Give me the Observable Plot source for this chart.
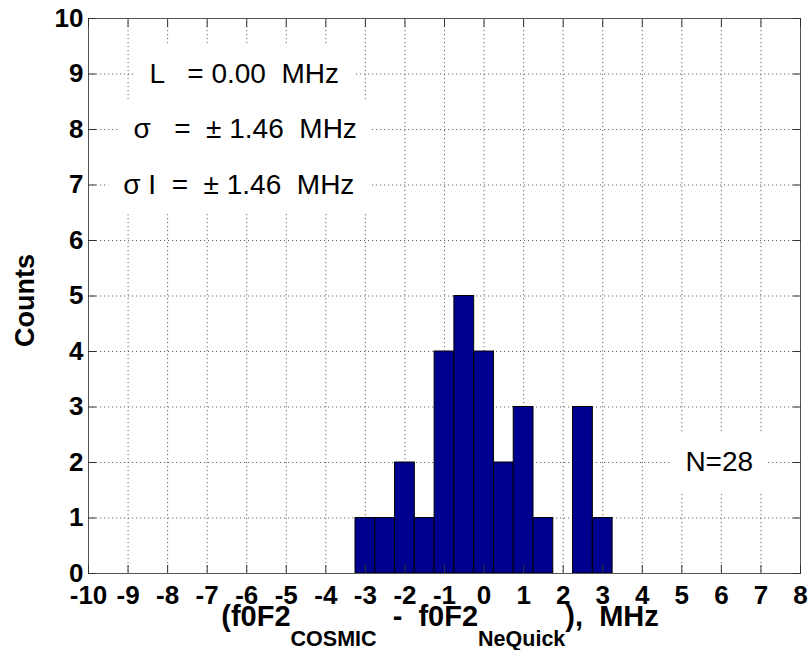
<!DOCTYPE html>
<html>
<head>
<meta charset="utf-8">
<script src="https://cdn.jsdelivr.net/npm/d3@7"></script>
<script src="https://cdn.jsdelivr.net/npm/@observablehq/plot@0.6"></script>
<style>
  html, body { margin: 0; padding: 0; background: #fff; }
  svg text { white-space: pre; }
</style>
</head>
<body>
<div id="chart"></div>
<script>
// ---- data ----
const binCenters = [-3, -2.5, -2, -1.5, -1, -0.5, 0, 0.5, 1, 1.5, 2, 2.5, 3];
const counts     = [ 1,    1,  2,    1,  4,    5, 4,   2, 3,   1, 0,   3, 1];
const binWidth = 0.5;
const xTicks = [-10,-9,-8,-7,-6,-5,-4,-3,-2,-1,0,1,2,3,4,5,6,7,8];
const yTicks = [0,1,2,3,4,5,6,7,8,9,10];
const annotText = ["L   = 0.00  MHz", "σ   =  ± 1.46  MHz", "σ I  =  ± 1.46  MHz", "N=28"];
const annotX = [-8.46, -8.86, -9.12, 5.09];
const annotY = [9, 8, 7, 2];

const FONT = "'Liberation Sans', Arial, Helvetica, sans-serif";

const bins = binCenters.map((c, i) => ({x1: c - binWidth / 2, x2: c + binWidth / 2, count: counts[i]}))
  .filter(d => d.count > 0);
const annots = annotText.map((t, i) => ({text: t, x: annotX[i], y: annotY[i]}));

const grid = {stroke: "#666", strokeOpacity: 1, strokeWidth: 1, strokeDasharray: "1.2,2.8"};
const tickStyle = {stroke: "#333", tickSize: 8, tickFormat: () => "", label: null};
const labelStyle = {tickSize: 0, fontSize: 26, fontWeight: "bold", fontFamily: FONT, fill: "#000", label: null, tickFormat: d => String(d)};

const chart = Plot.plot({
  width: 810,
  height: 650,
  marginLeft: 88,
  marginRight: 10,
  marginTop: 18,
  marginBottom: 77,
  style: {fontFamily: FONT, background: "#fff"},
  x: {domain: [-10, 8]},
  y: {domain: [0, 10]},
  marks: [
    Plot.gridX(xTicks, grid),
    Plot.gridY(yTicks, grid),
    Plot.rectY(bins, {x1: "x1", x2: "x2", y: "count", fill: "#00008F", stroke: "#000", strokeWidth: 1}),
    Plot.frame({stroke: "#555", strokeWidth: 1}),
    Plot.axisX(xTicks, {...tickStyle, anchor: "bottom", dy: -8}),
    Plot.axisX(xTicks, {...tickStyle, anchor: "top", dy: 8}),
    Plot.axisY(yTicks, {...tickStyle, anchor: "left", dx: 8}),
    Plot.axisY(yTicks, {...tickStyle, anchor: "right", dx: -8}),
    Plot.axisX(xTicks, {...labelStyle, anchor: "bottom", tickPadding: 12}),
    Plot.axisY(yTicks, {...labelStyle, anchor: "left", tickPadding: 5}),
    Plot.text(annots, {x: "x", y: "y", text: "text", textAnchor: "start", lineAnchor: "middle",
      fontSize: 28, fontFamily: FONT, fill: "#000"})
  ]
});

document.getElementById("chart").appendChild(chart);

const svg = d3.select(chart);

// white background boxes behind the annotations (as in the original figure)
const annTexts = svg.selectAll("text").filter(function() {
  return annotText.includes(this.textContent);
});
annTexts.each(function() {
  const b = this.getBBox();
  const m = this.getCTM();
  const padX = 15, padY = 14;
  const g = this.parentNode;
  const r = document.createElementNS("http://www.w3.org/2000/svg", "rect");
  r.setAttribute("x", m.e + b.x - padX);
  r.setAttribute("y", m.f + b.y - padY);
  r.setAttribute("width", b.width + 2 * padX);
  r.setAttribute("height", b.height + 2 * padY);
  r.setAttribute("fill", "#fff");
  g.parentNode.insertBefore(r, g);
});

// axis titles
const sx = chart.scale("x"), sy = chart.scale("y");
const cx = (sx.range[0] + sx.range[1]) / 2;
const yb = sy.apply(0);
const xl = svg.append("text")
  .attr("x", cx - 4).attr("y", yb + 53)
  .attr("text-anchor", "middle")
  .attr("font-family", FONT).attr("font-weight", "bold").attr("font-size", 29)
  .attr("fill", "#000");
xl.append("tspan").text("(f0F2");
xl.append("tspan").attr("dy", 20).attr("font-size", 21.5).text("COSMIC");
xl.append("tspan").attr("dy", -20).text("  -  f0F2");
xl.append("tspan").attr("dy", 20).attr("font-size", 21.5).text("NeQuick");
xl.append("tspan").attr("dy", -20).text("),  MHz");

const cy = (sy.range[0] + sy.range[1]) / 2;
svg.append("text")
  .attr("transform", `translate(34,${cy + 5}) rotate(-90)`)
  .attr("text-anchor", "middle")
  .attr("font-family", FONT).attr("font-weight", "bold").attr("font-size", 27)
  .attr("fill", "#000")
  .text("Counts");
</script>
</body>
</html>
